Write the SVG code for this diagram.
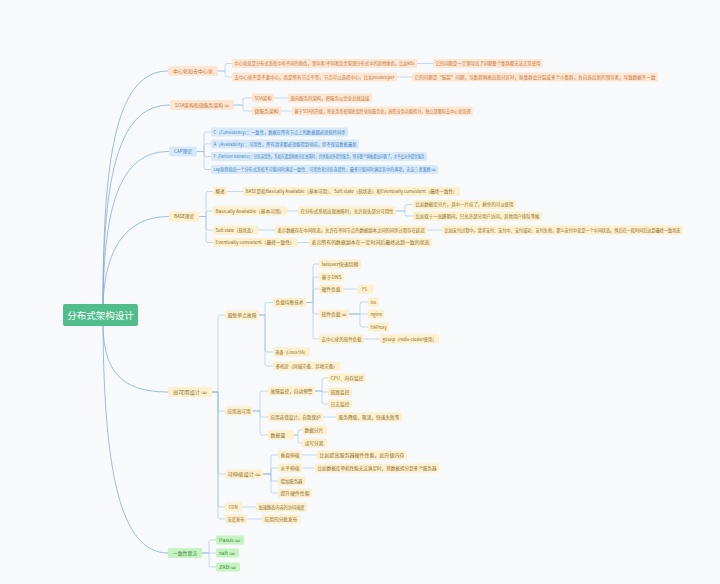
<svg xmlns="http://www.w3.org/2000/svg" width="720" height="584" viewBox="0 0 720 584">
<style>
text{font-family:"Noto Sans CJK SC","Noto Sans",sans-serif;font-size:4.5px}
.L1 text{font-size:5px}
rect{rx:1.5px}
.o{fill:#fde7d3}.b{fill:#d8eaf9}.y{fill:#fdf0cd}.g{fill:#c5f3c1}
.to{fill:#c4773a}.tb{fill:#3f83c4}.ty{fill:#8b6d2c}.tg{fill:#3b8b3b}
#connectors path{fill:none;stroke:#9ec3e6;stroke-width:0.6}
#connectors .r{stroke:#7fb0e0;stroke-width:0.8}
</style>
<rect width="720" height="584" fill="#f8f9fa"/>
<g id="connectors">
<path class="r" d="M103 304 C103 150 118 71 168 71"/>
<path class="r" d="M103 304 C103 170 120 105 170 105"/>
<path class="r" d="M103 304 C104 200 122 151.5 169 151.5"/>
<path class="r" d="M103 304 C105 250 125 216.5 169 216.5"/>
<path class="r" d="M103 326 C104 370 120 392 168 392"/>
<path class="r" d="M103 326 C104 470 120 553 168 553"/>
<path d="M218 71 H225 V65.5 Q225 63.5 227 63.5 H232 M218 71 H225 V75 Q225 77 227 77 H232"/>
<path d="M417 63.5 H433 M397 77 H412"/>
<path d="M234 105 H243 V100 Q243 98 245 98 H252 M234 105 H243 V109 Q243 111 245 111 H252"/>
<path d="M274 98 H288 M281 111 H292"/>
<path d="M197 151.5 H204 V134 Q204 132 206 132 H211 M197 151.5 H204 V146 Q204 144 206 144 H211 M197 151.5 H204 V154.5 Q204 156.5 206 156.5 H211 M197 151.5 H204 V167.5 Q204 169.5 206 169.5 H211"/>
<path d="M199 216.5 H206 V193.5 Q206 191.5 208 191.5 H213 M199 216.5 H206 V213 Q206 211 208 211 H213 M199 216.5 H206 V228 Q206 230 208 230 H213 M199 216.5 H206 V240.5 Q206 242.5 208 242.5 H213"/>
<path d="M227 191.5 H243 M287 211 H298 M258 230 H275 M427 230 H442 M297 242.5 H309"/>
<path d="M396 211 H405 V206.5 Q405 204.5 407 204.5 H413 M396 211 H405 V214 Q405 216 407 216 H413"/>
<path d="M212 392 H218 V317 Q218 315 220 315 H225 M212 392 H218 V409 Q218 411 220 411 H225 M212 392 H218 V472 Q218 474 220 474 H225 M212 392 H218 V505 Q218 507 220 507 H225 M212 392 H218 V517 Q218 519 220 519 H225"/>
<path d="M259 315 H265 V304.5 Q265 302.5 267 302.5 H273 M259 315 H265 V350 Q265 352 267 352 H273 M259 315 H265 V364 Q265 366 267 366 H273"/>
<path d="M306 302.5 H313 V266 Q313 264 315 264 H319 M306 302.5 H313 V279 Q313 277 315 277 H319 M306 302.5 H313 V291 Q313 289 315 289 H319 M306 302.5 H313 V312 Q313 314 315 314 H319 M306 302.5 H313 V337 Q313 339 315 339 H319"/>
<path d="M343 289 H357 M364 339 H380"/>
<path d="M349 314 H360 V304 Q360 302 362 302 H368 M349 314 H368 M349 314 H360 V325 Q360 327 362 327 H368"/>
<path d="M253 411 H260 V393 Q260 391 262 391 H268 M253 411 H260 V415 Q260 417 262 417 H268 M253 411 H260 V433 Q260 435 262 435 H268"/>
<path d="M315 391 H322 V380 Q322 378 324 378 H328 M315 391 H322 V392 H328 M315 391 H322 V402 Q322 404 324 404 H328"/>
<path d="M323 417 H336"/>
<path d="M294 435 H298 V432 Q298 430 300 430 H302 M294 435 H298 V441 Q298 443 300 443 H302"/>
<path d="M263 474 H271 V457 Q271 455 273 455 H278 M263 474 H271 V470 Q271 468 273 468 H278 M263 474 H271 V479 Q271 481 273 481 H278 M263 474 H271 V491 Q271 493 273 493 H278"/>
<path d="M302 455 H317 M302 468 H315 M242 507 H256 M247 519 H262"/>
<path d="M202 553 H209 V542 Q209 540 211 540 H216 M202 553 H216 M202 553 H209 V565 Q209 567 211 567 H216"/>
</g>
<g id="root"><rect x="63" y="304" width="75" height="22" fill="#52bd8c" style="rx:2px"/><text x="100.5" y="318.6" text-anchor="middle" style="font-size:9.5px;fill:#ffffff">分布式架构设计</text></g>
<g class="L1">
<g id="n-center"><rect class="o" x="168" y="66" width="50" height="10"/><text class="to" x="173" y="72.8" textLength="40" lengthAdjust="spacingAndGlyphs">中心化和去中心化</text></g>
<g id="n-soa"><rect class="o" x="170" y="100" width="64" height="10"/><text class="to" x="175" y="106.8" textLength="54" lengthAdjust="spacingAndGlyphs">SOA架构和微服务架构 ∞</text></g>
<g id="n-cap"><rect class="b" x="169" y="146.5" width="28" height="10"/><text class="tb" x="174" y="153.3" textLength="18" lengthAdjust="spacingAndGlyphs">CAP理论</text></g>
<g id="n-base"><rect class="y" x="169" y="211.5" width="30" height="10"/><text class="ty" x="174" y="218.3" textLength="20" lengthAdjust="spacingAndGlyphs">BASE理论</text></g>
<g id="n-ha"><rect class="y" x="168" y="387" width="44" height="10"/><text class="ty" x="173" y="393.8" textLength="34" lengthAdjust="spacingAndGlyphs">高可用设计 ∞</text></g>
<g id="n-algo"><rect class="g" x="168" y="548" width="34" height="10"/><text class="tg" x="173" y="554.8" textLength="24" lengthAdjust="spacingAndGlyphs">一致性算法</text></g>
</g>
<g id="c1"><rect class="o" x="232" y="59" width="185" height="9"/><text class="to" x="234.5" y="65.1" textLength="180" lengthAdjust="spacingAndGlyphs">中心化就是分布式系统中有不同的角色，领导者/不同者负责管理分布式中的其他角色，比如k8s</text></g>
<g id="c1a"><rect class="o" x="433" y="59" width="110" height="9"/><text class="to" x="435.5" y="65.1" textLength="105" lengthAdjust="spacingAndGlyphs">它的问题是一旦领导出了问题整个集群都无法正常使用</text></g>
<g id="c2"><rect class="o" x="232" y="72.5" width="165" height="9"/><text class="to" x="234.5" y="78.6" textLength="160" lengthAdjust="spacingAndGlyphs">去中心化不是不要中心，而是所有节点平等，节点可以选择中心，比如zookeeper</text></g>
<g id="c2a"><rect class="o" x="412" y="72.5" width="246" height="9"/><text class="to" x="414.5" y="78.6" textLength="241" lengthAdjust="spacingAndGlyphs">它的问题是“脑裂”问题，当集群网络出现分区时，原集群会分裂成多个小集群，各自选出新的领导者，导致数据不一致</text></g>
<g id="s1"><rect class="o" x="252" y="93.5" width="22" height="9"/><text class="to" x="254.5" y="99.6" textLength="17" lengthAdjust="spacingAndGlyphs">SOA架构</text></g>
<g id="s1a"><rect class="o" x="288" y="93.5" width="84" height="9"/><text class="to" x="290.5" y="99.6" textLength="79" lengthAdjust="spacingAndGlyphs">面向服务的架构，把服务以企业总线连接</text></g>
<g id="s2"><rect class="o" x="252" y="106.5" width="29" height="9"/><text class="to" x="254.5" y="112.6" textLength="24" lengthAdjust="spacingAndGlyphs">微服务架构</text></g>
<g id="s2a"><rect class="o" x="292" y="106.5" width="181" height="9"/><text class="to" x="294.5" y="112.6" textLength="176" lengthAdjust="spacingAndGlyphs">基于SOA的升级，将业务系统彻底组件化和服务化，按照业务功能拆分，独立部署和去中心化治理</text></g>
<g id="cap1"><rect class="b" x="211" y="127.5" width="137" height="9"/><text class="tb" x="213.5" y="133.6" textLength="132" lengthAdjust="spacingAndGlyphs">C（Consistency）：一致性，数据在所有节点上的数据都必须保持同步</text></g>
<g id="cap2"><rect class="b" x="211" y="139.5" width="148" height="9"/><text class="tb" x="213.5" y="145.6" textLength="143" lengthAdjust="spacingAndGlyphs">A（Availability）：可用性，所有请求都必须能得到响应，但不保证数据最新</text></g>
<g id="cap3"><rect class="b" x="211" y="152" width="216" height="9"/><text class="tb" x="213.5" y="158.1" textLength="211" lengthAdjust="spacingAndGlyphs">P（Partition tolerance）：分区容错性，系统在遇到网络分区故障时，仍然能对外提供服务，除非整个网络都出问题了，才不会对外提供服务</text></g>
<g id="cap4"><rect class="b" x="211" y="165" width="227" height="9"/><text class="tb" x="213.5" y="171.1" textLength="222" lengthAdjust="spacingAndGlyphs">cap原则指出一个分布式系统不可能同时满足一致性、可用性和分区容错性，最多只能同时满足其中的两项，无法三者兼顾 ∞</text></g>
<g id="b1"><rect class="y" x="213" y="187" width="14" height="9"/><text class="ty" x="215.5" y="193.1" textLength="9" lengthAdjust="spacingAndGlyphs">概述</text></g>
<g id="b1a"><rect class="y" x="243" y="187" width="217" height="9"/><text class="ty" x="245.5" y="193.1" textLength="212" lengthAdjust="spacingAndGlyphs">BASE是指Basically Available（基本可用）、Soft state（软状态）和Eventually consistent（最终一致性）</text></g>
<g id="b2"><rect class="y" x="213" y="206.5" width="74" height="9"/><text class="ty" x="215.5" y="212.6" textLength="69" lengthAdjust="spacingAndGlyphs">Basically Available（基本可用）</text></g>
<g id="b2a"><rect class="y" x="298" y="206.5" width="98" height="9"/><text class="ty" x="300.5" y="212.6" textLength="93" lengthAdjust="spacingAndGlyphs">在分布式系统出现故障时，允许损失部分可用性</text></g>
<g id="b2a1"><rect class="y" x="413" y="200" width="103" height="9"/><text class="ty" x="415.5" y="206.1" textLength="98" lengthAdjust="spacingAndGlyphs">比如数据库分片，其中一片挂了，剩余的可以使用</text></g>
<g id="b2a2"><rect class="y" x="413" y="211.5" width="129" height="9"/><text class="ty" x="415.5" y="217.6" textLength="124" lengthAdjust="spacingAndGlyphs">比如双十一高峰期间，只允许部分用户访问，其他用户排队等候</text></g>
<g id="b3"><rect class="y" x="213" y="225.5" width="45" height="9"/><text class="ty" x="215.5" y="231.6" textLength="40" lengthAdjust="spacingAndGlyphs">Soft state（软状态）</text></g>
<g id="b3a"><rect class="y" x="275" y="225.5" width="152" height="9"/><text class="ty" x="277.5" y="231.6" textLength="147" lengthAdjust="spacingAndGlyphs">表示数据存在中间状态，允许在不同节点的数据副本之间的同步过程存在延迟</text></g>
<g id="b3a1"><rect class="y" x="442" y="225.5" width="241" height="9"/><text class="ty" x="444.5" y="231.6" textLength="236" lengthAdjust="spacingAndGlyphs">比如支付过程中，请求支付、支付中、支付成功、支付失败，那么支付中就是一个中间状态，然后在一段时间后达到最终一致状态</text></g>
<g id="b4"><rect class="y" x="213" y="238" width="84" height="9"/><text class="ty" x="215.5" y="244.1" textLength="79" lengthAdjust="spacingAndGlyphs">Eventually consistent（最终一致性）</text></g>
<g id="b4a"><rect class="y" x="309" y="238" width="123" height="9"/><text class="ty" x="311.5" y="244.1" textLength="118" lengthAdjust="spacingAndGlyphs">表示所有的数据副本在一定时间后最终达到一致的状态</text></g>
<g id="h1"><rect class="y" x="225" y="310.5" width="34" height="9"/><text class="ty" x="227.5" y="316.6" textLength="29" lengthAdjust="spacingAndGlyphs">避免单点故障</text></g>
<g id="h11"><rect class="y" x="273" y="298" width="33" height="9"/><text class="ty" x="275.5" y="304.1" textLength="28" lengthAdjust="spacingAndGlyphs">负载均衡技术</text></g>
<g id="h111"><rect class="y" x="319" y="259.5" width="42" height="9"/><text class="ty" x="321.5" y="265.6" textLength="37" lengthAdjust="spacingAndGlyphs">failover快速切换</text></g>
<g id="h112"><rect class="y" x="319" y="272.5" width="25" height="9"/><text class="ty" x="321.5" y="278.6" textLength="20" lengthAdjust="spacingAndGlyphs">基于DNS</text></g>
<g id="h113"><rect class="y" x="319" y="284.5" width="24" height="9"/><text class="ty" x="321.5" y="290.6" textLength="19" lengthAdjust="spacingAndGlyphs">硬件负载</text></g>
<g id="h1131"><rect class="y" x="357" y="284.5" width="16" height="9"/><text class="ty" x="362" y="290.6">F5</text></g>
<g id="h114"><rect class="y" x="319" y="309.5" width="30" height="9"/><text class="ty" x="321.5" y="315.6" textLength="25" lengthAdjust="spacingAndGlyphs">软件负载 ∞</text></g>
<g id="h1141"><rect class="y" x="368" y="297.5" width="11" height="9"/><text class="ty" x="370.5" y="303.6">lvs</text></g>
<g id="h1142"><rect class="y" x="368" y="309.5" width="16" height="9"/><text class="ty" x="370.5" y="315.6">nginx</text></g>
<g id="h1143"><rect class="y" x="368" y="322.5" width="21" height="9"/><text class="ty" x="370.5" y="328.6" textLength="16" lengthAdjust="spacingAndGlyphs">HAProxy</text></g>
<g id="h115"><rect class="y" x="319" y="334.5" width="45" height="9"/><text class="ty" x="321.5" y="340.6" textLength="40" lengthAdjust="spacingAndGlyphs">去中心化的软件负载</text></g>
<g id="h1151"><rect class="y" x="380" y="334.5" width="59" height="9"/><text class="ty" x="382.5" y="340.6" textLength="54" lengthAdjust="spacingAndGlyphs">gossip（redis-cluster使用）</text></g>
<g id="h12"><rect class="y" x="273" y="347.5" width="37" height="9"/><text class="ty" x="275.5" y="353.6" textLength="32" lengthAdjust="spacingAndGlyphs">热备（Linux HA）</text></g>
<g id="h13"><rect class="y" x="273" y="361.5" width="67" height="9"/><text class="ty" x="275.5" y="367.6" textLength="62" lengthAdjust="spacingAndGlyphs">多机房（同城灾备、异地灾备）</text></g>
<g id="h2"><rect class="y" x="225" y="406.5" width="28" height="9"/><text class="ty" x="227.5" y="412.6" textLength="23" lengthAdjust="spacingAndGlyphs">应用高可用</text></g>
<g id="h21"><rect class="y" x="268" y="386.5" width="47" height="9"/><text class="ty" x="270.5" y="392.6" textLength="42" lengthAdjust="spacingAndGlyphs">故障监控，自动预警</text></g>
<g id="h211"><rect class="y" x="328" y="373.5" width="38" height="9"/><text class="ty" x="330.5" y="379.6" textLength="33" lengthAdjust="spacingAndGlyphs">CPU、内存监控</text></g>
<g id="h212"><rect class="y" x="328" y="387.5" width="24" height="9"/><text class="ty" x="330.5" y="393.6" textLength="19" lengthAdjust="spacingAndGlyphs">链路监控</text></g>
<g id="h213"><rect class="y" x="328" y="399.5" width="24" height="9"/><text class="ty" x="330.5" y="405.6" textLength="19" lengthAdjust="spacingAndGlyphs">日志监控</text></g>
<g id="h22"><rect class="y" x="268" y="412.5" width="55" height="9"/><text class="ty" x="270.5" y="418.6" textLength="50" lengthAdjust="spacingAndGlyphs">应用容错设计，自我保护</text></g>
<g id="h221"><rect class="y" x="336" y="412.5" width="66" height="9"/><text class="ty" x="338.5" y="418.6" textLength="61" lengthAdjust="spacingAndGlyphs">服务降级，限流，快速失败等</text></g>
<g id="h23"><rect class="y" x="268" y="430.5" width="26" height="9"/><text class="ty" x="270.5" y="436.6" textLength="15" lengthAdjust="spacingAndGlyphs">数据量</text></g>
<g id="h231"><rect class="y" x="302" y="425.5" width="25" height="9"/><text class="ty" x="304.5" y="431.6" textLength="19" lengthAdjust="spacingAndGlyphs">数据分片</text></g>
<g id="h232"><rect class="y" x="302" y="438.5" width="25" height="9"/><text class="ty" x="304.5" y="444.6" textLength="19" lengthAdjust="spacingAndGlyphs">读写分离</text></g>
<g id="h3"><rect class="y" x="225" y="469.5" width="38" height="9"/><text class="ty" x="227.5" y="475.6" textLength="33" lengthAdjust="spacingAndGlyphs">可伸缩设计 ∞</text></g>
<g id="h31"><rect class="y" x="278" y="450.5" width="24" height="9"/><text class="ty" x="280.5" y="456.6" textLength="19" lengthAdjust="spacingAndGlyphs">垂直伸缩</text></g>
<g id="h311"><rect class="y" x="317" y="450.5" width="90" height="9"/><text class="ty" x="319.5" y="456.6" textLength="85" lengthAdjust="spacingAndGlyphs">比如提高服务器硬件性能，如升级内存</text></g>
<g id="h32"><rect class="y" x="278" y="463.5" width="24" height="9"/><text class="ty" x="280.5" y="469.6" textLength="19" lengthAdjust="spacingAndGlyphs">水平伸缩</text></g>
<g id="h321"><rect class="y" x="315" y="463.5" width="124" height="9"/><text class="ty" x="317.5" y="469.6" textLength="119" lengthAdjust="spacingAndGlyphs">比如数据库单机性能无法满足时，将数据拆分到多个服务器</text></g>
<g id="h33"><rect class="y" x="278" y="476.5" width="27" height="9"/><text class="ty" x="280.5" y="482.6" textLength="22" lengthAdjust="spacingAndGlyphs">增加服务器</text></g>
<g id="h34"><rect class="y" x="278" y="488.5" width="34" height="9"/><text class="ty" x="280.5" y="494.6" textLength="29" lengthAdjust="spacingAndGlyphs">提升硬件性能</text></g>
<g id="h4"><rect class="y" x="225" y="502.5" width="17" height="9"/><text class="ty" x="228.5" y="508.6">CDN</text></g>
<g id="h41"><rect class="y" x="256" y="502.5" width="51" height="9"/><text class="ty" x="258.5" y="508.6" textLength="46" lengthAdjust="spacingAndGlyphs">加速静态内容的访问速度</text></g>
<g id="h5"><rect class="y" x="225" y="514.5" width="22" height="9"/><text class="ty" x="227.5" y="520.6" textLength="17" lengthAdjust="spacingAndGlyphs">灰度发布</text></g>
<g id="h51"><rect class="y" x="262" y="514.5" width="38" height="9"/><text class="ty" x="264.5" y="520.6" textLength="33" lengthAdjust="spacingAndGlyphs">应用的分批发布</text></g>
<g id="a1"><rect class="g" x="216" y="535.5" width="28" height="9"/><text class="tg" x="219" y="541.6" textLength="21" lengthAdjust="spacingAndGlyphs">Paxos ∞</text></g>
<g id="a2"><rect class="g" x="216" y="548.5" width="23" height="9"/><text class="tg" x="219" y="554.6" textLength="16" lengthAdjust="spacingAndGlyphs">raft ∞</text></g>
<g id="a3"><rect class="g" x="216" y="562.5" width="24" height="9"/><text class="tg" x="219" y="568.6" textLength="17" lengthAdjust="spacingAndGlyphs">ZAB ∞</text></g>
</svg>
